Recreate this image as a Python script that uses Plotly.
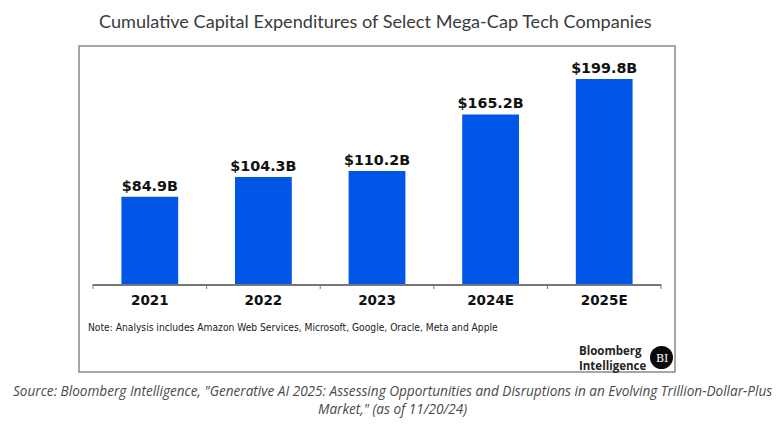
import plotly.graph_objects as go

categories = ["2021", "2022", "2023", "2024E", "2025E"]
capex = [84.9, 104.3, 110.2, 165.2, 199.8]
labels = ["$84.9B", "$104.3B", "$110.2B", "$165.2B", "$199.8B"]

W, H = 784, 425

fig = go.Figure(go.Bar(
    x=categories, y=capex, text=labels, textposition="outside", cliponaxis=False,
    constraintext="none",
    textfont=dict(family="DejaVu Sans", size=14.3, color="#111111", weight="bold"),
    marker=dict(color="#0057e7", line=dict(width=0)), width=0.5,
))
fig.update_layout(
    width=W, height=H, autosize=False, showlegend=False,
    paper_bgcolor="white", plot_bgcolor="white",
    margin=dict(l=93, r=W - 661, t=50, b=H - 284),
    xaxis=dict(type="category", showline=True, linecolor="#777777", linewidth=1.5,
               ticks="", showgrid=False, zeroline=False,
               tickfont=dict(family="DejaVu Sans", size=13.5, color="#111111", weight="bold"),
               ticklabelstandoff=3),
    yaxis=dict(range=[0, 228], visible=False, showgrid=False, zeroline=False),
    shapes=[
        dict(type="rect", xref="paper", yref="paper", x0=(79 - 93) / 568, x1=(675 - 93) / 568,
             y0=(284 - 372) / 234, y1=(284 - 46) / 234,
             line=dict(color="#8a8a8a", width=1.5), fillcolor="rgba(0,0,0,0)"),
        *[dict(type="line", xref="paper", yref="paper", x0=i / 5, x1=i / 5,
               y0=-5 / 234, y1=0, line=dict(color="#777777", width=1)) for i in range(6)],
        dict(type="circle", xref="paper", yref="paper",
             x0=(650 - 93) / 568, x1=(673 - 93) / 568,
             y0=(284 - 369) / 234, y1=(284 - 346) / 234,
             fillcolor="#0a0a0a", line=dict(width=0)),
    ],
)

def note(text, x, y, size, color, family, anchor="left", align="center", **font):
    fig.add_annotation(
        text=text, xref="paper", yref="paper",
        x=(x - 93) / 568, y=(284 - y) / 234, xanchor=anchor, yanchor="middle",
        showarrow=False, align=align, borderpad=0,
        font=dict(family=family, size=size, color=color, **font),
    )

note("Cumulative Capital Expenditures of Select Mega-Cap Tech Companies", 375, 21, 18.1, "#3a3a3a", "Lato", "center")
note("Note: Analysis includes Amazon Web Services, Microsoft, Google, Oracle, Meta and Apple", 87, 327, 10.2, "#222222", "DejaVu Sans Condensed", weight="normal")
note("Bloomberg<br>Intelligence", 578, 357.5, 11.5, "#222222", "Open Sans", align="left", weight="bold")
note("BI", 661.5, 358, 11, "white", "DejaVu Serif", "center")
note("Source: Bloomberg Intelligence, \"Generative AI 2025: Assessing Opportunities and Disruptions in an Evolving Trillion-Dollar-Plus<br>Market,\" (as of 11/20/24)",
     392, 399.5, 13.6, "#4a4a4a", "Open Sans", "center", style="italic")

fig.write_html("out.html", config=dict(displayModeBar=False),
               post_script="document.body.style.margin='0';document.documentElement.style.overflow='hidden';")
